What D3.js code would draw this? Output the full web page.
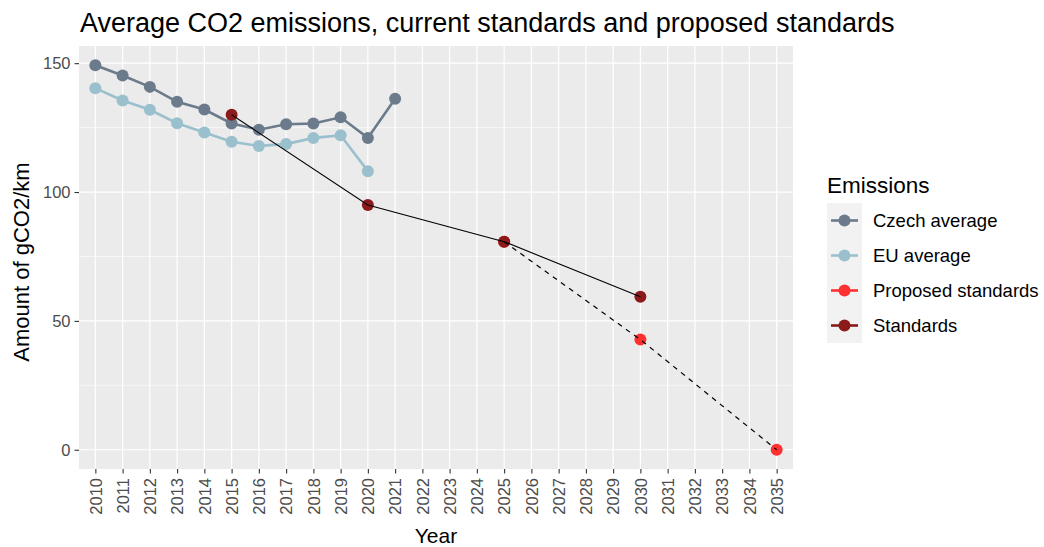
<!DOCTYPE html>
<html>
<head>
<meta charset="utf-8">
<script src="https://cdn.jsdelivr.net/npm/d3@7"></script>
<style>
  body { margin: 0; background: #fff; }
  text { font-family: "Liberation Sans", Arial, sans-serif; }
</style>
</head>
<body>
<script>
// data
var years = d3.range(2010, 2036); // tick labels 2010..2035
var czechYears = [2010, 2011, 2012, 2013, 2014, 2015, 2016, 2017, 2018, 2019, 2020, 2021];
var czechValues = [149.2, 145.2, 140.8, 135.0, 132.0, 126.6, 124.2, 126.3, 126.6, 129.0, 121.0, 136.2];
var euYears = [2010, 2011, 2012, 2013, 2014, 2015, 2016, 2017, 2018, 2019, 2020];
var euValues = [140.3, 135.5, 131.9, 126.7, 123.1, 119.5, 117.9, 118.6, 121.0, 122.0, 108.1];
var standardYears = [2015, 2020, 2025, 2030];
var standardValues = [130, 95, 80.75, 59.375];
var proposedYears = [2025, 2030, 2035];
var proposedValues = [80.75, 42.75, 0];
var seriesNames = ["Czech average", "EU average", "Proposed standards", "Standards"];
var seriesColors = ["#6C7B8B", "#9AC0CD", "#FF3030", "#8B1A1A"];
var yTicks = [0, 50, 100, 150];
var yMinor = [25, 75, 125];

var width = 1044, height = 547;
var panel = {left: 79, right: 793, top: 46, bottom: 469};

var svg = d3.select("body").append("svg")
  .attr("width", width)
  .attr("height", height);

function zip(xs, ys) { return xs.map(function(x, i){ return {x: x, y: ys[i]}; }); }
var czech = zip(czechYears, czechValues);
var eu = zip(euYears, euValues);
var standards = zip(standardYears, standardValues);
var proposed = zip(proposedYears, proposedValues);

// discrete x axis like ggplot (0.6 expansion each side)
var x = d3.scalePoint().domain(years).range([panel.left, panel.right]).padding(0.6);
var yMax = d3.max(czechValues), span = yMax - 0;
var y = d3.scaleLinear().domain([0 - span * 0.05, yMax + span * 0.05]).range([panel.bottom, panel.top]);

var color = d3.scaleOrdinal().domain(seriesNames).range(seriesColors);

// panel background
svg.append("rect")
  .attr("x", panel.left).attr("y", panel.top)
  .attr("width", panel.right - panel.left).attr("height", panel.bottom - panel.top)
  .attr("fill", "#EBEBEB");

// grid
svg.append("g").selectAll("line").data(yMinor).enter().append("line")
  .attr("x1", panel.left).attr("x2", panel.right)
  .attr("y1", function(d){ return y(d); }).attr("y2", function(d){ return y(d); })
  .attr("stroke", "#fff").attr("stroke-width", 0.6);
svg.append("g").selectAll("line").data(yTicks).enter().append("line")
  .attr("x1", panel.left).attr("x2", panel.right)
  .attr("y1", function(d){ return y(d); }).attr("y2", function(d){ return y(d); })
  .attr("stroke", "#fff").attr("stroke-width", 1.2);
svg.append("g").selectAll("line").data(years).enter().append("line")
  .attr("x1", function(d){ return x(d); }).attr("x2", function(d){ return x(d); })
  .attr("y1", panel.top).attr("y2", panel.bottom)
  .attr("stroke", "#fff").attr("stroke-width", 1.2);

// axes
var xAxis = svg.append("g")
  .attr("transform", "translate(0," + panel.bottom + ")")
  .call(d3.axisBottom(x).tickSize(4.5).tickPadding(3));
xAxis.selectAll("text")
  .attr("transform", "rotate(-90)")
  .attr("text-anchor", "end")
  .attr("x", -9).attr("y", 0).attr("dy", "0.35em");

var yAxis = svg.append("g")
  .attr("transform", "translate(" + panel.left + ",0)")
  .call(d3.axisLeft(y).tickValues(yTicks).tickSize(4.5).tickPadding(4));

[xAxis, yAxis].forEach(function(a){
  a.select(".domain").remove();
  a.selectAll("line").attr("stroke", "#333333").attr("stroke-width", 1.1);
  a.selectAll("text").attr("fill", "#4D4D4D").style("font-size", "16.5px")
    .style("font-family", "'Liberation Sans', Arial, sans-serif");
});

// series
var line = d3.line().x(function(d){ return x(d.x); }).y(function(d){ return y(d.y); });

svg.append("path").datum(czech).attr("d", line)
  .attr("fill", "none").attr("stroke", color("Czech average")).attr("stroke-width", 2.6);
svg.append("path").datum(eu).attr("d", line)
  .attr("fill", "none").attr("stroke", color("EU average")).attr("stroke-width", 2.6);

function points(data, name) {
  svg.append("g").selectAll("circle").data(data).enter().append("circle")
    .attr("cx", function(d){ return x(d.x); })
    .attr("cy", function(d){ return y(d.y); })
    .attr("r", 6)
    .attr("fill", color(name));
}
points(czech, "Czech average");
points(eu, "EU average");
points(proposed, "Proposed standards");
points(standards, "Standards");

svg.append("path").datum(standards).attr("d", line)
  .attr("fill", "none").attr("stroke", "#000").attr("stroke-width", 1.1);
svg.append("path").datum(proposed).attr("d", line)
  .attr("fill", "none").attr("stroke", "#000").attr("stroke-width", 1.2)
  .attr("stroke-dasharray", "5,5");

// titles
svg.append("text")
  .attr("x", 80).attr("y", 32)
  .style("font-size", "27px").attr("fill", "#000")
  .text("Average CO2 emissions, current standards and proposed standards");

svg.append("text")
  .attr("x", (panel.left + panel.right) / 2).attr("y", 543)
  .attr("text-anchor", "middle")
  .style("font-size", "21px").attr("fill", "#000")
  .text("Year");

svg.append("text")
  .attr("transform", "translate(29,262) rotate(-90)")
  .attr("text-anchor", "middle")
  .style("font-size", "22px").attr("fill", "#000")
  .text("Amount of gCO2/km");

// legend
var legend = svg.append("g").attr("transform", "translate(827,0)");
legend.append("text")
  .attr("x", 0).attr("y", 193)
  .style("font-size", "22.5px").attr("fill", "#000")
  .text("Emissions");

var keyH = 35, keyTop = 203;
var keys = legend.selectAll("g.key").data(seriesNames).enter().append("g")
  .attr("class", "key")
  .attr("transform", function(d, i){ return "translate(0," + (keyTop + i * keyH) + ")"; });
keys.append("rect")
  .attr("width", 35).attr("height", keyH)
  .attr("fill", "#F2F2F2");
keys.append("line")
  .attr("x1", 4).attr("x2", 31).attr("y1", keyH / 2).attr("y2", keyH / 2)
  .attr("stroke", function(d){ return color(d); }).attr("stroke-width", 2.6);
keys.append("circle")
  .attr("cx", 17.5).attr("cy", keyH / 2).attr("r", 6)
  .attr("fill", function(d){ return color(d); });
keys.append("text")
  .attr("x", 46).attr("y", keyH / 2).attr("dy", "0.35em")
  .style("font-size", "18.5px").attr("fill", "#000")
  .text(function(d){ return d; });
</script>
</body>
</html>
